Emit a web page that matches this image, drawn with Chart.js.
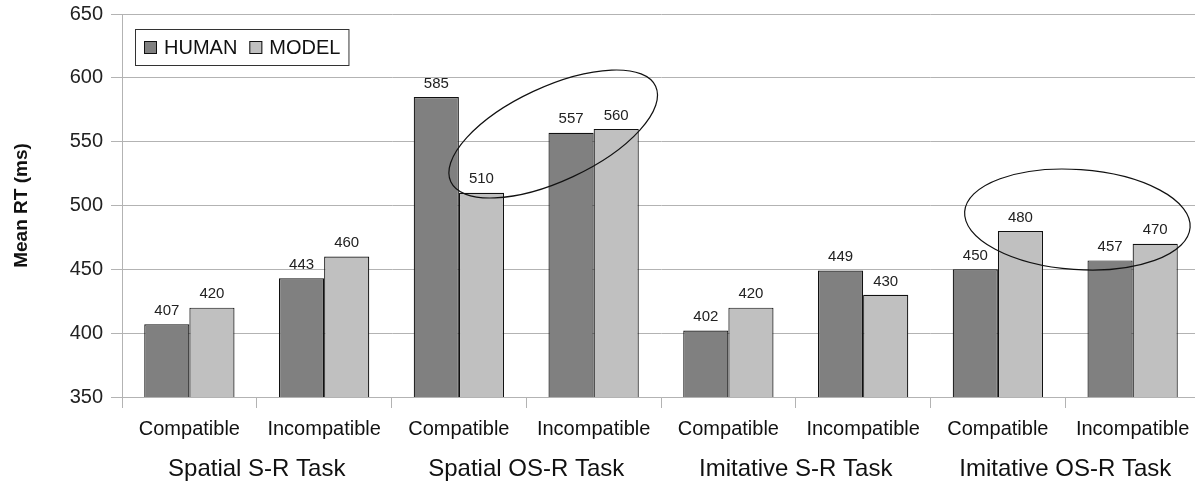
<!DOCTYPE html>
<html>
<head>
<meta charset="utf-8">
<script src="https://cdn.jsdelivr.net/npm/chart.js@4.4.1/dist/chart.umd.min.js"></script>
<style>
  html, body { margin: 0; padding: 0; background: #fff; overflow: hidden; }
  #wrap { width: 1200px; height: 482px; }
</style>
</head>
<body>
<div id="wrap"><canvas id="chart"></canvas></div>
<script>
var CONDITIONS = ['Compatible', 'Incompatible', 'Compatible', 'Incompatible', 'Compatible', 'Incompatible', 'Compatible', 'Incompatible'];
var TASKS = ['Spatial S-R Task', 'Spatial OS-R Task', 'Imitative S-R Task', 'Imitative OS-R Task'];
var HUMAN = [407, 443, 585, 557, 402, 449, 450, 457];
var MODEL = [420, 460, 510, 560, 420, 430, 480, 470];
var Y_TICKS = [350, 400, 450, 500, 550, 600, 650];

var FONT = 'Liberation Sans, Arial, sans-serif';
var GRID = '#b3b3b3';

// value labels above every bar
var valueLabels = {
  id: 'valueLabels',
  afterDatasetsDraw: function(chart) {
    var c = chart.ctx;
    c.save();
    c.font = '15px ' + FONT;
    c.fillStyle = '#222';
    c.textAlign = 'center';
    c.textBaseline = 'bottom';
    chart.data.datasets.forEach(function(ds, i) {
      chart.getDatasetMeta(i).data.forEach(function(bar, j) {
        c.fillText(ds.data[j], bar.x, bar.y - 6);
      });
    });
    c.restore();
  }
};

// boxed legend inside the plot, top left
var boxLegend = {
  id: 'boxLegend',
  afterDraw: function(chart) {
    var c = chart.ctx, a = chart.chartArea;
    var x = a.left + 13, y = a.top + 15, h = 36;
    c.save();
    c.font = '20px ' + FONT;
    var w = 9;
    chart.data.datasets.forEach(function(ds, i) {
      w += 13 + 7 + c.measureText(ds.label).width + (i < chart.data.datasets.length - 1 ? 12 : 8);
    });
    c.fillStyle = '#fff';
    c.fillRect(x, y, w, h);
    c.strokeStyle = '#333';
    c.lineWidth = 1;
    c.strokeRect(x + 0.5, y + 0.5, w, h);
    var cx = x + 9;
    c.textBaseline = 'middle';
    chart.data.datasets.forEach(function(ds) {
      c.fillStyle = ds.backgroundColor;
      c.fillRect(cx, y + 12, 13, 13);
      c.strokeStyle = '#111';
      c.strokeRect(cx + 0.5, y + 12.5, 12, 12);
      c.fillStyle = '#111';
      c.fillText(ds.label, cx + 20, y + 19);
      cx += 13 + 7 + c.measureText(ds.label).width + 12;
    });
    c.restore();
  }
};

// highlight ellipses, centred in data units
var ELLIPSES = [
  { x: 2.70, y: 556, rx: 113, ry: 47, rot: -25 },
  { x: 6.59, y: 489, rx: 113, ry: 50, rot: 4 }
];
var ellipses = {
  id: 'ellipses',
  afterDatasetsDraw: function(chart) {
    var c = chart.ctx, xs = chart.scales.x, ys = chart.scales.y;
    var step = xs.getPixelForValue(1) - xs.getPixelForValue(0);
    c.save();
    c.strokeStyle = '#111';
    c.lineWidth = 1.2;
    ELLIPSES.forEach(function(e) {
      var px = xs.getPixelForValue(0) + e.x * step;
      var py = ys.getPixelForValue(e.y);
      c.beginPath();
      c.ellipse(px, py, e.rx, e.ry, e.rot * Math.PI / 180, 0, 2 * Math.PI);
      c.stroke();
    });
    c.restore();
  }
};

new Chart(document.getElementById('chart'), {
  type: 'bar',
  data: {
    labels: CONDITIONS,
    datasets: [{
      label: 'HUMAN',
      data: HUMAN,
      backgroundColor: '#808080',
      borderColor: '#111',
      borderWidth: 1.2,
      borderSkipped: false
    }, {
      label: 'MODEL',
      data: MODEL,
      backgroundColor: '#c0c0c0',
      borderColor: '#111',
      borderWidth: 1.2,
      borderSkipped: false
    }]
  },
  options: {
    responsive: true,
    maintainAspectRatio: false,
    animation: false,
    layout: { padding: { top: 14, right: 0, left: 0, bottom: 0 } },
    datasets: { bar: { categoryPercentage: 0.67, barPercentage: 1 } },
    plugins: {
      legend: { display: false },
      tooltip: { enabled: false }
    },
    scales: {
      y: {
        min: 350,
        max: 650,
        afterBuildTicks: function(s) { s.ticks = Y_TICKS.map(function(v) { return { value: v }; }); },
        afterFit: function(s) { s.width = 122; s.paddingTop = 0; s.paddingBottom = 0; },
        grid: { color: GRID, tickLength: 11 },
        border: { color: GRID },
        ticks: { color: '#222', font: { family: FONT, size: 20 }, padding: 8 },
        title: {
          display: true,
          text: 'Mean RT (ms)',
          color: '#111',
          font: { family: FONT, size: 19, weight: 'bold' },
          padding: { top: 10, bottom: 10 }
        }
      },
      x: {
        afterFit: function(s) { s.height = 50; },
        grid: { color: GRID, drawOnChartArea: false, tickLength: 11, offset: true },
        border: { color: GRID },
        ticks: { color: '#111', font: { family: FONT, size: 20 }, padding: 9, maxRotation: 0, autoSkip: false }
      },
      x2: {
        type: 'category',
        position: 'bottom',
        labels: TASKS,
        offset: true,
        afterFit: function(s) { s.height = 35; },
        grid: { display: false },
        border: { display: false },
        ticks: { color: '#111', font: { family: FONT, size: 24 }, padding: 0, maxRotation: 0, autoSkip: false }
      }
    }
  },
  plugins: [valueLabels, ellipses, boxLegend]
});
</script>
</body>
</html>
